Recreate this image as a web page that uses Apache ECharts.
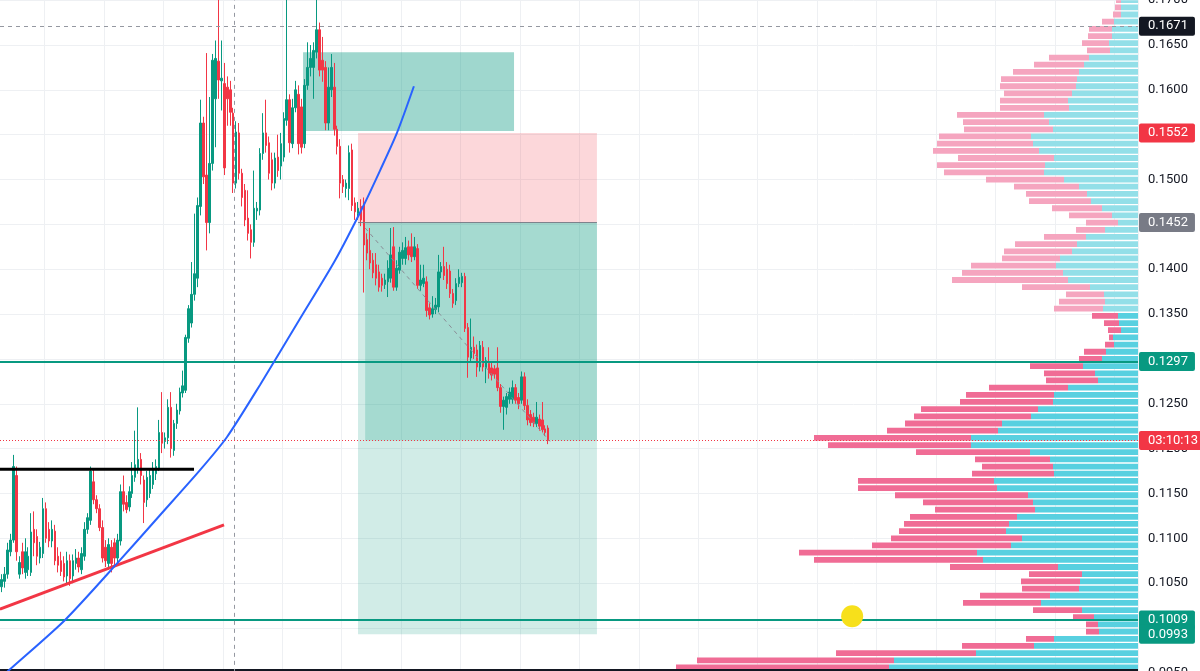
<!DOCTYPE html>
<html>
<head>
<meta charset="utf-8">
<script src="https://cdn.jsdelivr.net/npm/echarts@6/dist/echarts.min.js"></script>
<style>
html,body{margin:0;padding:0;background:#fff;}
#chart{width:1200px;height:671px;}
</style>
</head>
<body>
<div id="chart"></div>
<script>
// ---------- DATA ----------
// candles: [open, close, low, high], one per bar
const ohlc = [
[0.1046,0.1054,0.1040,0.1060],
[0.1052,0.1060,0.1045,0.1068],[0.1060,0.1087,0.1055,0.1095],[0.1085,0.1098,0.1080,0.1105],[0.1098,0.1180,0.1095,0.1193],
[0.1170,0.1085,0.1075,0.1180],[0.1060,0.1073,0.1055,0.1080],[0.1085,0.1067,0.1060,0.1095],[0.1062,0.1085,0.1055,0.1100],
[0.1065,0.1080,0.1058,0.1090],[0.1062,0.1107,0.1058,0.1128],[0.1110,0.1095,0.1080,0.1130],[0.1102,0.1080,0.1070,0.1110],
[0.1078,0.1090,0.1072,0.1096],[0.1083,0.1133,0.1078,0.1145],[0.1133,0.1100,0.1095,0.1140],[0.1110,0.1097,0.1090,0.1118],
[0.1097,0.1110,0.1090,0.1120],[0.1108,0.1075,0.1070,0.1115],[0.1080,0.1070,0.1062,0.1090],[0.1075,0.1063,0.1058,0.1085],
[0.1072,0.1057,0.1052,0.1080],[0.1058,0.1075,0.1050,0.1085],[0.1075,0.1055,0.1047,0.1082],[0.1058,0.1075,0.1050,0.1082],
[0.1072,0.1078,0.1065,0.1088],[0.1078,0.1068,0.1062,0.1085],[0.1065,0.1083,0.1060,0.1090],[0.1080,0.1110,0.1075,0.1118],
[0.1110,0.1123,0.1105,0.1128],[0.1120,0.1175,0.1115,0.1180],[0.1163,0.1143,0.1138,0.1178],[0.1143,0.1133,0.1128,0.1148],
[0.1133,0.1112,0.1108,0.1138],[0.1112,0.1078,0.1073,0.1120],[0.1090,0.1075,0.1068,0.1098],[0.1072,0.1093,0.1065,0.1100],
[0.1090,0.1072,0.1062,0.1098],[0.1095,0.1078,0.1068,0.1100],[0.1078,0.1098,0.1072,0.1105],[0.1097,0.1152,0.1092,0.1160],
[0.1152,0.1138,0.1130,0.1170],[0.1140,0.1132,0.1128,0.1148],[0.1135,0.1152,0.1130,0.1158],[0.1150,0.1170,0.1145,0.1185],
[0.1168,0.1182,0.1163,0.1220],[0.1178,0.1188,0.1172,0.1246],[0.1188,0.1170,0.1160,0.1195],[0.1165,0.1140,0.1117,0.1170],
[0.1143,0.1168,0.1135,0.1175],[0.1150,0.1170,0.1145,0.1178],[0.1160,0.1178,0.1155,0.1185],[0.1172,0.1180,0.1165,0.1188],
[0.1178,0.1218,0.1175,0.1232],[0.1218,0.1206,0.1195,0.1263],[0.1208,0.1212,0.1200,0.1218],[0.1212,0.1246,0.1205,0.1255],
[0.1246,0.1200,0.1190,0.1263],[0.1198,0.1228,0.1192,0.1232],[0.1228,0.1243,0.1222,0.1250],[0.1242,0.1263,0.1238,0.1268],
[0.1262,0.1270,0.1257,0.1287],[0.1265,0.1324,0.1262,0.1327],[0.1323,0.1356,0.1318,0.1360],[0.1340,0.1372,0.1335,0.1408],
[0.1372,0.1395,0.1365,0.1462],[0.1390,0.1471,0.1380,0.1480],[0.1470,0.1563,0.1460,0.1589],[0.1563,0.1503,0.1495,0.1570],
[0.1505,0.1452,0.1421,0.1641],[0.1452,0.1518,0.1440,0.1592],[0.1518,0.1633,0.1510,0.1640],[0.1590,0.1635,0.1536,0.1655],
[0.1632,0.1611,0.1590,0.1712],[0.1610,0.1613,0.1577,0.1655],[0.1607,0.1513,0.1505,0.1630],[0.1603,0.1590,0.1560,0.1615],
[0.1600,0.1575,0.1560,0.1610],[0.1574,0.1496,0.1485,0.1580],[0.1496,0.1553,0.1490,0.1565],[0.1552,0.1507,0.1500,0.1563],
[0.1507,0.1480,0.1470,0.1512],[0.1488,0.1455,0.1448,0.1495],[0.1457,0.1440,0.1432,0.1488],[0.1444,0.1430,0.1412,0.1450],
[0.1430,0.1468,0.1425,0.1510],[0.1465,0.1468,0.1455,0.1475],[0.1466,0.1529,0.1460,0.1535],[0.1529,0.1552,0.1522,0.1574],
[0.1552,0.1538,0.1530,0.1589],[0.1541,0.1507,0.1500,0.1548],[0.1522,0.1496,0.1488,0.1530],[0.1496,0.1524,0.1490,0.1530],
[0.1525,0.1510,0.1503,0.1550],[0.1515,0.1540,0.1500,0.1552],[0.1525,0.1568,0.1520,0.1575],[0.1566,0.1589,0.1560,0.1702],
[0.1589,0.1541,0.1530,0.1595],[0.1540,0.1580,0.1535,0.1590],[0.1580,0.1600,0.1575,0.1610],[0.1595,0.1540,0.1528,0.1605],
[0.1581,0.1536,0.1529,0.1590],[0.1540,0.1605,0.1535,0.1612],[0.1605,0.1625,0.1600,0.1653],[0.1625,0.1635,0.1615,0.1650],
[0.1625,0.1644,0.1590,0.1653],[0.1642,0.1667,0.1635,0.1706],[0.1667,0.1622,0.1615,0.1675],[0.1633,0.1622,0.1609,0.1659],
[0.1625,0.1563,0.1555,0.1632],[0.1563,0.1603,0.1555,0.1625],[0.1600,0.1625,0.1592,0.1640],[0.1603,0.1556,0.1549,0.1630],
[0.1556,0.1537,0.1528,0.1560],[0.1537,0.1496,0.1479,0.1545],[0.1500,0.1492,0.1485,0.1505],[0.1490,0.1496,0.1480,0.1500],
[0.1490,0.1530,0.1477,0.1538],[0.1533,0.1471,0.1465,0.1540],[0.1474,0.1464,0.1455,0.1480],[0.1462,0.1468,0.1455,0.1475],
[0.1470,0.1455,0.1448,0.1478],[0.1474,0.1427,0.1374,0.1480],[0.1433,0.1418,0.1410,0.1440],[0.1421,0.1407,0.1400,0.1446],
[0.1410,0.1396,0.1390,0.1418],[0.1405,0.1390,0.1382,0.1418],[0.1397,0.1380,0.1375,0.1405],[0.1390,0.1382,0.1375,0.1395],
[0.1383,0.1388,0.1378,0.1395],[0.1386,0.1401,0.1369,0.1410],[0.1390,0.1416,0.1385,0.1446],[0.1425,0.1380,0.1376,0.1447],
[0.1380,0.1401,0.1376,0.1410],[0.1399,0.1419,0.1395,0.1425],[0.1412,0.1421,0.1405,0.1430],[0.1412,0.1424,0.1405,0.1436],
[0.1425,0.1416,0.1410,0.1432],[0.1425,0.1414,0.1408,0.1440],[0.1414,0.1425,0.1410,0.1436],[0.1423,0.1382,0.1378,0.1428],
[0.1382,0.1388,0.1376,0.1405],[0.1384,0.1390,0.1380,0.1405],[0.1386,0.1354,0.1347,0.1392],[0.1357,0.1349,0.1344,0.1362],
[0.1350,0.1356,0.1346,0.1370],[0.1355,0.1360,0.1350,0.1368],[0.1358,0.1397,0.1352,0.1416],[0.1397,0.1403,0.1390,0.1408],
[0.1403,0.1393,0.1388,0.1425],[0.1400,0.1384,0.1378,0.1408],[0.1398,0.1373,0.1368,0.1405],[0.1373,0.1362,0.1357,0.1378],
[0.1365,0.1384,0.1360,0.1390],[0.1384,0.1391,0.1380,0.1400],[0.1385,0.1392,0.1380,0.1396],[0.1392,0.1334,0.1330,0.1396],
[0.1335,0.1302,0.1279,0.1340],[0.1301,0.1313,0.1296,0.1345],[0.1313,0.1306,0.1300,0.1325],[0.1310,0.1291,0.1280,0.1316],
[0.1291,0.1315,0.1286,0.1320],[0.1313,0.1291,0.1286,0.1320],[0.1290,0.1298,0.1273,0.1302],[0.1295,0.1284,0.1278,0.1313],
[0.1290,0.1282,0.1276,0.1296],[0.1289,0.1283,0.1278,0.1293],[0.1290,0.1268,0.1264,0.1313],[0.1268,0.1247,0.1240,0.1272],
[0.1247,0.1254,0.1221,0.1258],[0.1246,0.1258,0.1238,0.1262],[0.1255,0.1263,0.1250,0.1268],[0.1255,0.1268,0.1250,0.1276],
[0.1268,0.1254,0.1250,0.1272],[0.1257,0.1250,0.1244,0.1262],[0.1254,0.1280,0.1250,0.1286],[0.1280,0.1248,0.1243,0.1285],
[0.1248,0.1232,0.1226,0.1255],[0.1238,0.1229,0.1225,0.1243],[0.1235,0.1229,0.1224,0.1240],[0.1228,0.1235,0.1224,0.1252],
[0.1233,0.1225,0.1220,0.1238],[0.1232,0.1221,0.1218,0.1252],[0.1222,0.1218,0.1214,0.1226],[0.1223,0.1209,0.1205,0.1226]
];
const barSlots = 383;            // bar slots across the plot (incl. empty future)

// price labels on the axis
const priceTags = { last: 0.1671, stop: 0.1552, entry: 0.1452, level1: 0.1297, current: 0.1209, level2: 0.1009, target: 0.0993 };
const countdownText = '03:10:13';

// drawings, in [bar index, price]
const blueCurve = [[-0.5,0.0944],[2.87,0.0954],[21.4,0.1009],[38.9,0.1072],[53.4,0.1126],[66.8,0.1176],[75.9,0.1213],[87.0,0.1271],[100.5,0.1345],[112.3,0.1410],[121.7,0.1470],[127.4,0.1510],[133.1,0.1552],[138.8,0.1604]];
const redTrend = [[-0.5,0.1021],[74.9,0.1115]];
const blackLevel = [[-0.5,0.1177],[64.8,0.1177]];
const bottomLevel = 0.0954;
const crosshairBar = 78.3;
const yellowDot = [[286.3,0.1013]];
const oldTarget = { from: 101.5, to: 172.5, top: 0.1642, bottom: 0.1554 };
const shortPos = { from: 120.0, fillFrom: 122.4, to: 200.4, stop: 0.1552, entry: 0.1452, target: 0.0993, current: 0.1209 };
const pathLine = [[122.4,0.1446],[184.6,0.1208]];

// volume profile rows (top row first), down (pink) and up (cyan) volumes
const vpTopPrice = 0.1700, vpRowStep = 0.0008, vpValueAreaFromRow = 44;
const vpDown = [5,6,8,12,23,24,27,23,40,50,66,76,76,68,68,69,87,86,89,92,96,106,96,108,100,78,65,61,62,50,43,32,29,42,62,68,58,85,101,116,68,38,46,49,26,15,13,4,9,22,23,53,51,52,79,88,93,117,117,97,111,157,143,114,75,71,82,136,139,133,110,100,107,105,107,131,139,178,169,108,53,59,57,70,78,49,21,12,13,28,72,140,197,213];
const vpUp   = [17,17,17,24,26,26,29,28,49,54,59,61,62,66,70,69,94,89,85,107,105,99,84,93,94,74,59,51,47,36,26,20,33,52,61,66,78,82,75,70,48,34,33,35,20,19,17,25,24,32,36,55,43,40,70,84,85,100,107,136,140,167,167,108,88,85,84,144,141,110,105,103,121,129,132,116,127,161,155,80,56,58,59,88,97,56,44,40,39,84,104,162,244,249];

// ---------- CHART ----------
const GREEN = '#089981', RED = '#f23645', GREY = '#787b86';
const cats = Array.from({length: barSlots}, (_, i) => String(i));
const vpData = vpDown.map((d, j) => [vpTopPrice - j * vpRowStep, d, vpUp[j], j >= vpValueAreaFromRow ? 1 : 0]);

function tag(text, bg) {
  return { show: true, position: 'end', formatter: text, color: '#ffffff', backgroundColor: bg,
    padding: [3, 7, 3, 9], fontSize: 13, fontFamily: 'Roboto', distance: 1, borderRadius: 2 };
}
const noLine = { color: 'rgba(0,0,0,0)', width: 0 };

const chart = echarts.init(document.getElementById('chart'), null, { renderer: 'canvas' });
const option = {
  animation: false,
  backgroundColor: '#ffffff',
  grid: [
    { left: 0, right: 62, top: 0.15, height: 672.7, containLabel: false, outerBoundsMode: 'none' },
    { left: 0, right: 62, top: 0.15, height: 672.7, containLabel: false, outerBoundsMode: 'none' }
  ],
  xAxis: [
    { type: 'category', gridIndex: 0, data: cats, boundaryGap: true,
      axisLine: { show: false }, axisTick: { show: false }, axisLabel: { show: false },
      splitLine: { show: true, interval: (i) => i >= 15 && (i - 15) % 20 === 0, lineStyle: { color: '#eef0f3', width: 1 } } },
    { type: 'value', gridIndex: 0, min: -0.5, max: barSlots - 0.5, show: false },
    { type: 'value', gridIndex: 1, min: 0, max: 1138, inverse: true, show: false }
  ],
  yAxis: [
    { type: 'value', gridIndex: 0, position: 'right', min: 0.095, max: 0.170, interval: 0.005,
      axisLine: { show: false }, axisTick: { show: false },
      splitLine: { show: true, lineStyle: { color: '#eef0f3', width: 1 } },
      axisLabel: { formatter: (v) => v.toFixed(4), color: '#131722', fontSize: 13, fontFamily: 'Roboto', margin: 10, showMinLabel: true, showMaxLabel: true } },
    { type: 'value', gridIndex: 1, min: 0.095, max: 0.170, show: false }
  ],
  series: [
    { // position tools
      type: 'line', xAxisIndex: 1, yAxisIndex: 0, data: [], z: 1, silent: true,
      markArea: { silent: true, data: [
        [{ coord: [oldTarget.from, oldTarget.top], itemStyle: { color: 'rgba(8,153,129,0.39)' } }, { coord: [oldTarget.to, oldTarget.bottom] }],
        [{ coord: [shortPos.from, shortPos.stop], itemStyle: { color: 'rgba(242,54,69,0.2)' } }, { coord: [shortPos.to, shortPos.entry] }],
        [{ coord: [shortPos.from, shortPos.entry], itemStyle: { color: 'rgba(8,153,129,0.19)' } }, { coord: [shortPos.to, shortPos.target] }],
        [{ coord: [shortPos.fillFrom, shortPos.entry], itemStyle: { color: 'rgba(8,153,129,0.22)' } }, { coord: [shortPos.to, shortPos.current] }]
      ] }
    },
    { // horizontal levels & price tags
      type: 'line', xAxisIndex: 1, yAxisIndex: 0, data: [], z: 2, silent: true,
      markLine: { silent: true, precision: 6, symbol: ['none', 'none'], animation: false, data: [
        { yAxis: priceTags.last, lineStyle: { color: '#9598a1', type: [4, 4], width: 1 }, label: tag(priceTags.last.toFixed(4), '#131722') },
        { yAxis: priceTags.level1, lineStyle: { color: GREEN, type: 'solid', width: 2 }, label: tag(priceTags.level1.toFixed(4), GREEN) },
        { yAxis: bottomLevel, lineStyle: { color: '#131722', type: 'solid', width: 2 }, label: { show: false } },
        { yAxis: priceTags.level2, lineStyle: { color: GREEN, type: 'solid', width: 2 }, label: tag(priceTags.level2.toFixed(4), GREEN) },
        { xAxis: crosshairBar, lineStyle: { color: '#9598a1', type: [4, 4], width: 1 }, label: { show: false } },
        { yAxis: priceTags.stop, lineStyle: noLine, label: tag(priceTags.stop.toFixed(4), RED) },
        { yAxis: priceTags.entry, lineStyle: noLine, label: tag(priceTags.entry.toFixed(4), GREY) },
        { yAxis: priceTags.target, lineStyle: noLine, label: tag(priceTags.target.toFixed(4), GREEN) }
      ] }
    },
    { // volume profile
      type: 'custom', xAxisIndex: 2, yAxisIndex: 1, z: 3, clip: true, silent: true,
      data: vpData,
      renderItem: function (params, api) {
        const p = api.value(0), d = api.value(1), u = api.value(2), va = api.value(3);
        const top = api.coord([0, p + vpRowStep / 2]);
        const bot = api.coord([0, p - vpRowStep / 2]);
        const h = bot[1] - top[1];
        const y = top[1] + 0.7, hh = h - 1.4;
        const x0 = top[0];
        const xu = api.coord([u, p])[0];
        const xd = api.coord([u + d, p])[0];
        return { type: 'group', children: [
          { type: 'rect', shape: { x: xu, y: y, width: x0 - xu, height: hh }, style: { fill: va ? '#58d0e0' : '#93dfe8' } },
          { type: 'rect', shape: { x: xd, y: y, width: xu - xd, height: hh }, style: { fill: va ? '#f06c95' : '#f5a5bf' } }
        ] };
      }
    },
    { // candles
      type: 'candlestick', xAxisIndex: 0, yAxisIndex: 0, z: 4, data: ohlc, barWidth: 2, silent: true,
      itemStyle: { color: GREEN, color0: RED, borderColor: GREEN, borderColor0: RED, borderWidth: 1 }
    },
    { type: 'line', xAxisIndex: 1, yAxisIndex: 0, z: 5, data: [[shortPos.from, shortPos.entry], [shortPos.to, shortPos.entry]],
      showSymbol: false, silent: true, lineStyle: { color: GREY, width: 1 } },
    { type: 'line', xAxisIndex: 1, yAxisIndex: 0, z: 5, data: pathLine, showSymbol: false, silent: true,
      lineStyle: { color: '#8a8d96', width: 1, type: [4, 4] } },
    { type: 'line', xAxisIndex: 1, yAxisIndex: 0, z: 5, data: blackLevel, showSymbol: false, silent: true,
      lineStyle: { color: '#000000', width: 3 } },
    { type: 'line', xAxisIndex: 1, yAxisIndex: 0, z: 5, data: redTrend, showSymbol: false, silent: true,
      lineStyle: { color: RED, width: 3 } },
    { type: 'line', xAxisIndex: 1, yAxisIndex: 0, z: 5, data: blueCurve, showSymbol: false, silent: true,
      smooth: 0.25, lineStyle: { color: '#2962ff', width: 2 } },
    { // current price
      type: 'line', xAxisIndex: 1, yAxisIndex: 0, data: [], z: 6, silent: true,
      markLine: { silent: true, precision: 6, symbol: ['none', 'none'], animation: false, data: [
        { yAxis: priceTags.current, lineStyle: { color: RED, type: [1, 2], width: 1 }, label: tag(countdownText, RED) }
      ] }
    },
    { type: 'scatter', xAxisIndex: 1, yAxisIndex: 0, z: 7, data: yellowDot, symbolSize: 22, silent: true,
      itemStyle: { color: '#f7e01b', opacity: 1 } }
  ]
};
chart.setOption(option);
</script>
</body>
</html>
